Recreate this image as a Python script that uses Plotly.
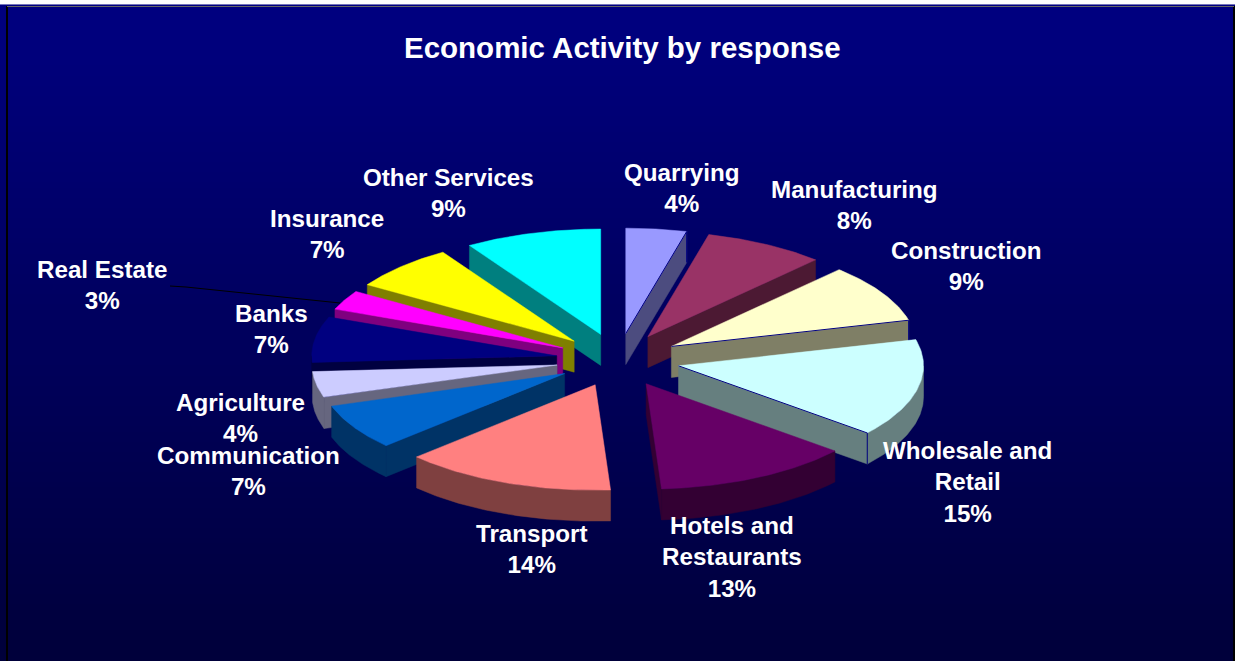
import math
import numpy as np
import plotly.graph_objects as go

# Share of responses per economic activity, clockwise from twelve o'clock
categories = ["Quarrying", "Manufacturing", "Construction", "Wholesale and<br>Retail",
              "Hotels and<br>Restaurants", "Transport", "Communication", "Agriculture",
              "Banks", "Real Estate", "Insurance", "Other Services"]
shares = [4, 8, 9, 15, 13, 14, 7, 4, 7, 3, 7, 9]
colors = ["#9999FF", "#993366", "#FFFFCC", "#CCFFFF", "#660066", "#FF8080",
          "#0066CC", "#CCCCFF", "#000080", "#FF00FF", "#FFFF00", "#00FFFF"]

# Label centres on the page
label_x = [682, 854, 966, 967, 732, 532, 248, 240, 271, 102, 327, 448]
label_y = [188, 205, 266, 482, 557, 549, 471, 418, 329, 285, 234, 193]

# Projection of the tilted, exploded pie
CX, CY = 618, 360
RX, TILT = 245, 0.43
EXPLODE, DEPTH = 62, 31
WIDTH, HEIGHT = 1235, 661


def darker(hex_color):
    r, g, b = (int(hex_color[i:i + 2], 16) for i in (1, 3, 5))
    return f"rgb({r // 2},{g // 2},{b // 2})"


def rim(apex, angle):
    a = math.radians(angle)
    return apex[0] + RX * math.sin(a), apex[1] - RX * TILT * math.cos(a)


def polygon(points, fill):
    xs, ys = zip(*points)
    return go.Scatter(x=list(xs) + [xs[0]], y=list(ys) + [ys[0]], mode="lines", fill="toself",
                      fillcolor=fill, line=dict(color=fill, width=0.5), hoverinfo="skip",
                      showlegend=False)


def drop(points):
    return [(x, y + DEPTH) for x, y in points]


fig = go.Figure()

# Panel background fading from navy to near black
rows = np.linspace(0, 1, 130)
fig.add_trace(go.Heatmap(z=[[v, v] for v in rows], x=[7.5, 1233.5],
                         y=np.linspace(7, HEIGHT + 2, 130),
                         colorscale=[[0, "#000080"], [1, "#00003A"]], showscale=False,
                         hoverinfo="skip", zmin=0, zmax=1))

# Slice angles
edges = np.cumsum([0] + shares) * 3.6
slices = []
for i, share in enumerate(shares):
    start, end = edges[i], edges[i + 1]
    mid = math.radians((start + end) / 2)
    apex = (CX + EXPLODE * math.sin(mid), CY - EXPLODE * TILT * math.cos(mid))
    slices.append((math.cos(mid), i, start, end, apex))

# Back slices first so nearer ones paint over them
for _, i, start, end, apex in sorted(slices, key=lambda s: -s[0]):
    top = colors[i]
    side = darker(top)
    arc = [rim(apex, a) for a in np.linspace(start, end, 60)]

    # Radial walls that face the viewer
    if math.sin(math.radians(start)) < 0:
        edge = [apex, rim(apex, start)]
        fig.add_trace(polygon(edge + drop(edge)[::-1], side))
    if math.sin(math.radians(end)) > 0.01:
        edge = [apex, rim(apex, end)]
        fig.add_trace(polygon(edge + drop(edge)[::-1], side))

    # Curved outer wall on the near half
    lo, hi = max(start, 90), min(end, 270)
    if lo < hi:
        front = [rim(apex, a) for a in np.linspace(lo, hi, 60)]
        fig.add_trace(polygon(front + drop(front)[::-1], side))

    fig.add_trace(polygon([apex] + arc, top))

    # Hairline along the end edge of the pale slices
    if top in ("#9999FF", "#FFFFCC", "#CCFFFF"):
        p = rim(apex, end)
        fig.add_trace(go.Scatter(x=[apex[0], p[0], p[0]], y=[apex[1], p[1], p[1] + DEPTH],
                                 mode="lines", line=dict(color="#000080", width=1),
                                 hoverinfo="skip", showlegend=False))

# Leader from the Real Estate label to its slice
fig.add_trace(go.Scatter(x=[170, 186, 340], y=[286, 287, 303], mode="lines",
                         line=dict(color="#000000", width=1), hoverinfo="skip", showlegend=False))

annotations = [dict(x=x, y=y, text=f"<b>{name}<br>{share}%</b>", showarrow=False, xanchor="center",
                    yanchor="middle", font=dict(family="Liberation Sans", size=24.2, color="white"))
               for x, y, name, share in zip(label_x, label_y, categories, shares)]
annotations.append(dict(x=622, y=47, text="<b>Economic Activity by response</b>", showarrow=False,
                        xanchor="center", yanchor="middle",
                        font=dict(family="Liberation Sans", size=29.5, color="white")))

fig.update_layout(
    width=WIDTH, height=HEIGHT, margin=dict(l=0, r=0, t=0, b=0),
    paper_bgcolor="white", plot_bgcolor="white", showlegend=False,
    xaxis=dict(range=[0, WIDTH], visible=False, fixedrange=True),
    yaxis=dict(range=[HEIGHT, 0], visible=False, fixedrange=True),
    annotations=annotations,
    shapes=[
        dict(type="line", xref="x", yref="y", x0=7, x1=7, y0=6, y1=HEIGHT, line=dict(color="black", width=2)),
        dict(type="line", xref="x", yref="y", x0=1234, x1=1234, y0=6, y1=HEIGHT, line=dict(color="black", width=2)),
        dict(type="line", xref="x", yref="y", x0=7, x1=1234, y0=6.5, y1=6.5, line=dict(color="#666666", width=1)),
    ],
)

fig.write_html("out.html", config={"displayModeBar": False})
